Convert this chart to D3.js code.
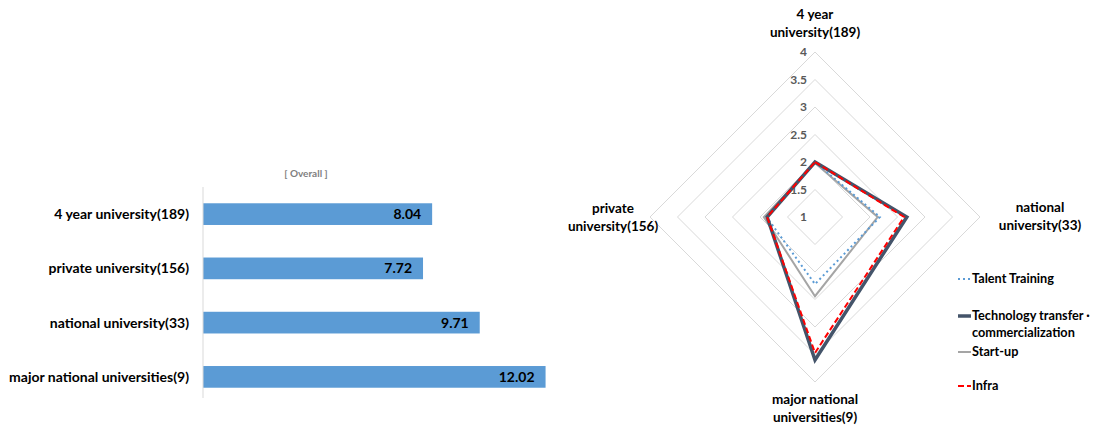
<!DOCTYPE html>
<html>
<head>
<meta charset="utf-8">
<script src="https://cdn.jsdelivr.net/npm/d3@7"></script>
<style>
  body { margin: 0; background: #fff; }
  text { font-family: Lato, "Open Sans", sans-serif; }
</style>
</head>
<body>
<script>
// bar chart data
var barCats = ['4 year university(189)', 'private university(156)', 'national university(33)', 'major national universities(9)'];
var barVals = [8.04, 7.72, 9.71, 12.02];

// radar data (axes clockwise from top)
var radarAxes = [['4 year', 'university(189)'], ['national', 'university(33)'], ['major national', 'universities(9)'], ['private', 'university(156)']];
var radarTicks = [1, 1.5, 2, 2.5, 3, 3.5, 4];
var seriesNames = ['Talent Training', 'Technology transfer ·|commercialization', 'Start-up', 'Infra'];
var talent = [2.0, 2.18, 2.22, 1.88];
var techTransfer = [2.0, 2.67, 3.6, 1.87];
var startUp = [1.98, 2.14, 2.44, 1.93];
var infra = [2.0, 2.62, 3.47, 1.87];

var W = 1093, H = 427;
var svg = d3.select('body').append('svg').attr('width', W).attr('height', H);

// ---- bar chart ----
var x = d3.scaleLinear().domain([0, 14]).range([203, 602]);
var y = d3.scaleBand().domain(barCats).range([187, 404]).paddingInner(0.6).paddingOuter(0.3);

svg.append('text')
   .attr('x', 306).attr('y', 177)
   .attr('text-anchor', 'middle')
   .attr('font-size', 10).attr('font-weight', 'bold')
   .attr('fill', '#7f7f7f')
   .text('[ Overall ]');

svg.selectAll('rect.bar')
   .data(barVals)
   .enter()
   .append('rect')
   .attr('class', 'bar')
   .attr('x', x(0))
   .attr('y', function(d, i) { return y(barCats[i]); })
   .attr('width', function(d) { return x(d) - x(0); })
   .attr('height', y.bandwidth())
   .attr('fill', '#5B9BD5');

svg.append('line')
   .attr('x1', x(0)).attr('x2', x(0))
   .attr('y1', 187).attr('y2', 398)
   .attr('stroke', '#d9d9d9');

svg.selectAll('text.cat')
   .data(barCats)
   .enter()
   .append('text')
   .attr('class', 'cat')
   .attr('x', 189)
   .attr('y', function(d) { return y(d) + y.bandwidth() / 2; })
   .attr('dy', '0.35em')
   .attr('text-anchor', 'end')
   .attr('font-size', 14).attr('font-weight', 'bold')
   .attr('fill', '#000')
   .text(function(d) { return d; });

svg.selectAll('text.val')
   .data(barVals)
   .enter()
   .append('text')
   .attr('class', 'val')
   .attr('x', function(d) { return x(d) - 11; })
   .attr('y', function(d, i) { return y(barCats[i]) + y.bandwidth() / 2; })
   .attr('dy', '0.35em')
   .attr('text-anchor', 'end')
   .attr('font-size', 14).attr('font-weight', 'bold')
   .attr('fill', '#000')
   .text(function(d) { return d.toFixed(2); });

// ---- radar chart ----
var cx = 815, cy = 217;
var r = d3.scaleLinear().domain([1, 4]).range([0, 165]);
var angle = function(i) { return i * Math.PI / 2; };
function pt(v, i) {
  return [cx + r(v) * Math.sin(angle(i)), cy - r(v) * Math.cos(angle(i))];
}

var rings = radarTicks.slice(1);
svg.selectAll('polygon.ring')
   .data(rings)
   .enter()
   .append('polygon')
   .attr('class', 'ring')
   .attr('points', function(t) {
     return radarAxes.map(function(a, i) { return pt(t, i).join(','); }).join(' ');
   })
   .attr('fill', 'none')
   .attr('stroke', '#d9d9d9');

svg.selectAll('text.tick')
   .data(radarTicks)
   .enter()
   .append('text')
   .attr('class', 'tick')
   .attr('x', cx - 8)
   .attr('y', function(t) { return cy - r(t); })
   .attr('dy', '0.35em')
   .attr('text-anchor', 'end')
   .attr('font-size', 12).attr('font-weight', 'bold')
   .attr('fill', '#595959')
   .text(function(t) { return t; });

var series = [
  { name: seriesNames[0], vals: talent, color: '#5B9BD5', width: 2, dash: '2,3' },
  { name: seriesNames[1], vals: techTransfer, color: '#44546A', width: 3.5, dash: null },
  { name: seriesNames[2], vals: startUp, color: '#A5A5A5', width: 2, dash: null },
  { name: seriesNames[3], vals: infra, color: '#FF0000', width: 2, dash: '6,3' }
];

var lineGen = d3.line().curve(d3.curveLinearClosed);
svg.selectAll('path.series')
   .data([series[2], series[0], series[1], series[3]])
   .enter()
   .append('path')
   .attr('class', 'series')
   .attr('d', function(s) { return lineGen(s.vals.map(pt)); })
   .attr('fill', 'none')
   .attr('stroke', function(s) { return s.color; })
   .attr('stroke-width', function(s) { return s.width; })
   .attr('stroke-dasharray', function(s) { return s.dash; })
   .attr('stroke-linejoin', 'miter');

// axis labels
var labelPos = [[815, 19], [1040, 212], [815, 404], [613, 213]];
radarAxes.forEach(function(a, i) {
  var t = svg.append('text')
     .attr('x', labelPos[i][0]).attr('y', labelPos[i][1])
     .attr('text-anchor', 'middle')
     .attr('font-size', 13.5).attr('font-weight', 'bold')
     .attr('fill', '#000');
  a.forEach(function(line, k) {
    t.append('tspan').attr('x', labelPos[i][0]).attr('dy', k === 0 ? 0 : 18).text(line);
  });
});

// legend
var legY = [279, 316, 352, 386];
var leg = svg.selectAll('g.leg')
   .data(series)
   .enter()
   .append('g')
   .attr('class', 'leg')
   .attr('transform', function(s, i) { return 'translate(958,' + legY[i] + ')'; });

leg.append('line')
   .attr('x1', 0).attr('x2', 13)
   .attr('stroke', function(s) { return s.color; })
   .attr('stroke-width', function(s) { return s.width; })
   .attr('stroke-dasharray', function(s) { return s.dash; });

leg.append('text')
   .attr('x', 14)
   .attr('dy', '0.35em')
   .attr('font-size', 12.7).attr('font-weight', 'bold')
   .attr('fill', '#000')
   .each(function(s) {
     var parts = s.name.split('|');
     var t = d3.select(this);
     parts.forEach(function(p, k) {
       t.append('tspan').attr('x', 14).attr('dy', k === 0 ? '0.35em' : 17).text(p);
     });
   });
</script>
</body>
</html>
